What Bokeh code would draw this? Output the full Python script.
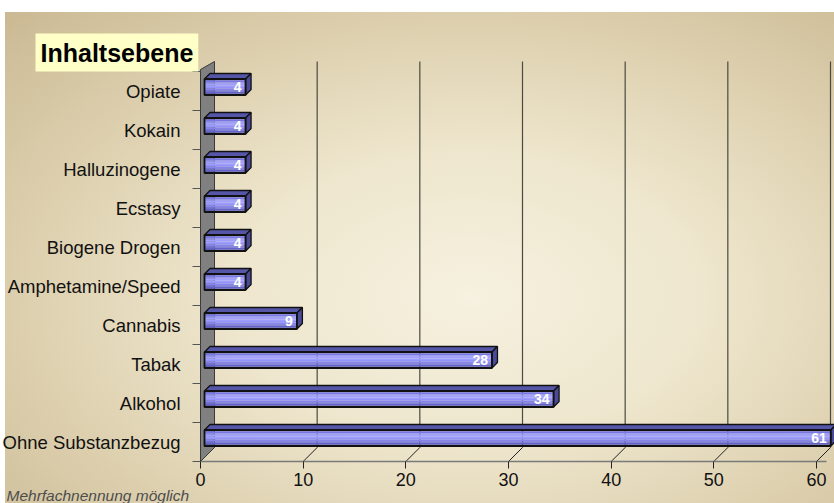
import numpy as np
from bokeh.plotting import figure
from bokeh.models import Range1d, FixedTicker, Label
from bokeh.embed import file_html
from bokeh.resources import INLINE
from bokeh.core.properties import value

# ---------------- data ----------------
categories = ["Ohne Substanzbezug", "Alkohol", "Tabak", "Cannabis",
              "Amphetamine/Speed", "Biogene Drogen", "Ecstasy",
              "Halluzinogene", "Kokain", "Opiate"]
counts = [61, 34, 28, 9, 4, 4, 4, 4, 4, 4]
x_ticks = [0, 10, 20, 30, 40, 50, 60]
title_text = "Inhaltsebene"
footnote_text = "Mehrfachnennung möglich"

# ---------------- geometry (pixels -> data) ----------------
W, H = 834, 503
LEFT = 200               # page x of value 0
BOTTOM = 461             # page y of category floor (-0.5)
SX = 616 / 60.0          # px per value unit
SY = 39.0                # px per category

def X(px):               # page x -> data x
    return (px - LEFT) / SX

def Y(py):               # page y -> data y
    return -0.5 + (BOTTOM - py) / SY

WALL_DX, WALL_DY = 14 / SX, 14 / SY
BAR_OX, BAR_OY = 4 / SX, 4 / SY      # bar offset into depth
BAR_DX, BAR_DY = 5.5 / SX, 5.5 / SY  # bar depth
BAR_H = 16 / SY
FONT = "Liberation Sans"

n = len(categories)
idx = np.arange(n, dtype=float)
vals = np.array(counts, dtype=float)

p = figure(frame_width=W, frame_height=H,
           x_range=Range1d(X(0), X(W)), y_range=Range1d(Y(H), Y(0)),
           output_backend="svg", toolbar_location=None,
           min_border=0)
p.border_fill_color = None
p.background_fill_color = None
p.outline_line_color = None
p.xgrid.visible = False
p.ygrid.visible = False
p.styles = {
    "background-image": "radial-gradient(ellipse farthest-corner at 56% 58%, "
                        "#f6f1e0 0%, #eee6cd 36%, #dbcdab 72%, #cab993 100%)",
    "background-repeat": "no-repeat",
    "background-position": "5px 12px",
    "background-size": "calc(100% - 5px) calc(100% - 12px)",
}

# ---------------- back wall gridlines ----------------
gt = np.array(x_ticks[1:], dtype=float)
p.segment(x0=gt + WALL_DX, y0=-0.5 + WALL_DY, x1=gt + WALL_DX, y1=Y(61),
          line_color="#4a4a40", line_width=1.2)

# ---------------- floor diagonals ----------------
ft = np.array(x_ticks, dtype=float)
p.segment(x0=ft, y0=-0.5, x1=ft + WALL_DX, y1=-0.5 + WALL_DY,
          line_color="#222222", line_width=1)

# ---------------- left wall ----------------
p.patch(x=[0, WALL_DX, WALL_DX, 0],
        y=[-0.5, -0.5 + WALL_DY, Y(61), Y(69)],
        fill_color="#808080", line_color="#3a3a3a", line_width=1)

# ---------------- bars ----------------
x0 = np.full(n, BAR_OX)
x1 = vals + BAR_OX
cy = idx + BAR_OY
yt = cy + BAR_H / 2
yb = cy - BAR_H / 2

strip_colors = ["#5c5cc4", "#7878e4", "#9090f6", "#a0a0ff", "#9d9dff",
                "#9292f8", "#8484ec", "#7272dc", "#6262c8", "#5050b0"]
ns = len(strip_colors)
for k, c in enumerate(strip_colors):
    top_k = yt - (yt - yb) * k / ns
    bot_k = yt - (yt - yb) * (k + 1) / ns
    p.quad(left=x0, right=x1, top=top_k, bottom=bot_k,
           fill_color=c, line_color=None)

top_xs = [[a, a + BAR_DX, b + BAR_DX, b] for a, b in zip(x0, x1)]
top_ys = [[t, t + BAR_DY, t + BAR_DY, t] for t in yt]
p.patches(xs=top_xs, ys=top_ys, fill_color="#5656a8", line_color="#111111",
          line_width=1.3)
end_xs = [[b, b + BAR_DX, b + BAR_DX, b] for b in x1]
end_ys = [[bo, bo + BAR_DY, t + BAR_DY, t] for bo, t in zip(yb, yt)]
p.patches(xs=end_xs, ys=end_ys, fill_color="#4a4a96", line_color="#111111",
          line_width=1.3)
p.quad(left=x0, right=x1, top=yt, bottom=yb, fill_color=None,
       line_color="#111111", line_width=1.8)

p.text(x=vals, y=cy, text=[str(c) for c in counts],
       text_align="right", text_baseline="middle",
       text_font=value(FONT), text_font_style="bold",
       text_font_size="14px", text_color="white")

# ---------------- axes (fixed inside the full-canvas frame) ----------------
xa = p.xaxis[0]
xa.fixed_location = -0.5
xa.ticker = FixedTicker(ticks=x_ticks)
xa.bounds = (0, 61)
xa.axis_line_color = "#7a7a7a"
xa.axis_line_width = 1.5
xa.major_tick_line_color = "#222222"
xa.major_tick_in = 0
xa.major_tick_out = 7
xa.minor_tick_line_color = None
xa.major_label_standoff = 4
xa.major_label_text_font = FONT
xa.major_label_text_font_size = "18px"
xa.major_label_text_color = "#111111"

ya = p.yaxis[0]
ya.fixed_location = 0
ya.ticker = FixedTicker(ticks=list(range(n)),
                        minor_ticks=[i - 0.5 for i in range(n + 1)])
ya.major_label_overrides = {i: categories[i] for i in range(n)}
ya.bounds = (-0.5, n - 0.5)
ya.axis_line_color = "#3a3a3a"
ya.major_tick_line_color = None
ya.major_tick_in = 0
ya.major_tick_out = 0
ya.minor_tick_line_color = "#555555"
ya.minor_tick_in = 0
ya.minor_tick_out = 8
ya.major_label_standoff = 12
ya.major_label_text_font = FONT
ya.major_label_text_font_size = "18.5px"
ya.major_label_text_color = "#111111"

# ---------------- title & footnote ----------------
p.add_layout(Label(x=X(35), y=Y(52), text=title_text,
                   text_font=FONT, text_font_style="bold",
                   text_font_size="25px", text_color="#000000",
                   text_baseline="middle", text_align="left",
                   background_fill_color="#ffffc8", padding=5))
p.add_layout(Label(x=X(6), y=Y(495), text=footnote_text,
                   text_font=FONT, text_font_style="italic",
                   text_font_size="15.5px", text_color="#4d4d4d",
                   text_baseline="middle", text_align="left"))

open("out.html", "w").write(file_html(p, INLINE))
